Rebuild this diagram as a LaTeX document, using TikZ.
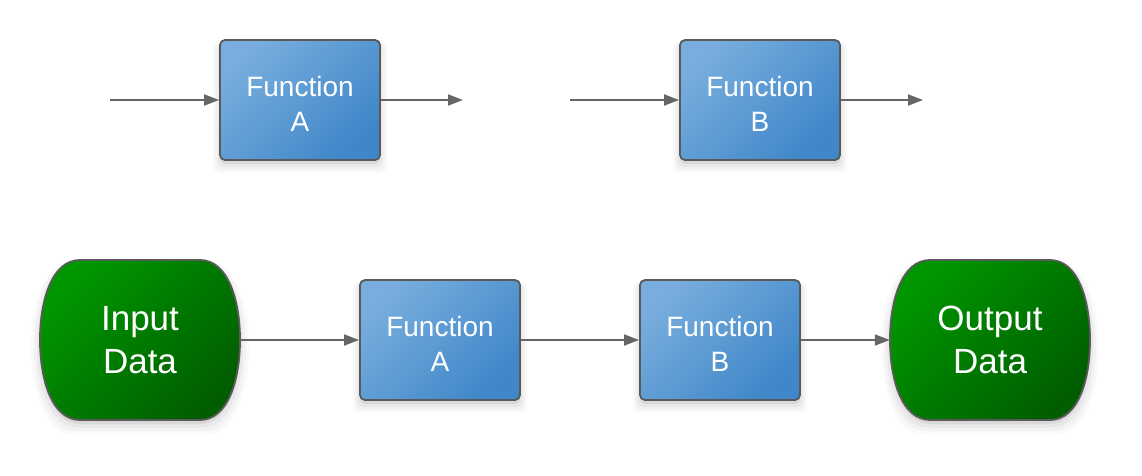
\documentclass[tikz,border=0pt]{standalone}
\usepackage{fontspec}
\setmainfont{Liberation Sans}
\usetikzlibrary{arrows.meta,shadows}
\definecolor{boxlt}{HTML}{78ADDD}
\definecolor{boxdk}{HTML}{3F87C9}
\definecolor{grnlt}{HTML}{009600}
\definecolor{grndk}{HTML}{005E00}
\definecolor{edge}{HTML}{5A5A5A}
\definecolor{arrowgray}{HTML}{666666}
\begin{document}
\begin{tikzpicture}[x=1pt,y=-1pt,
  softshadow/.style={
    general shadow={fill=black,opacity=.07,shadow yshift=-4pt},
    general shadow={fill=black,opacity=.04,shadow yshift=-5pt,shadow scale=1.03},
    general shadow={fill=black,opacity=.03,shadow yshift=-6pt,shadow scale=1.06},
    general shadow={fill=black,opacity=.02,shadow yshift=-7pt,shadow scale=1.09}},
  func/.style={rectangle,rounded corners=5pt,minimum width=160pt,minimum height=120pt,
    draw=edge,line width=1.8pt,top color=boxlt,bottom color=boxdk,shading angle=45,
    softshadow,inner sep=0pt},
  ftext/.style={text=white,align=center,inner sep=0pt,font=\fontsize{28}{35}\selectfont},
  datashape/.style={draw=edge,line width=1.8pt,top color=grnlt,bottom color=grndk,shading angle=45,softshadow},
  dtext/.style={text=white,align=center,inner sep=0pt,minimum width=200pt,minimum height=160pt,
    font=\fontsize{35}{43}\selectfont},
  arr/.style={draw=arrowgray,line width=1.8pt,-{Triangle[length=15pt,width=11pt]}}
]
\useasboundingbox (0,0) rectangle (1142,475);

% top row
\node[func] (fa1) at (300,100) {};
\node[ftext] (fa1t) at ([yshift=-4pt]fa1.center) {Function\\A};
\node[func] (fb1) at (760,100) {};
\node[ftext] (fb1t) at ([yshift=-4pt]fb1.center) {Function\\B};
\coordinate (a1in) at (110,100);
\coordinate (a1out) at (463,100);
\coordinate (b1in) at (570,100);
\coordinate (b1out) at (923,100);
\draw[arr] (a1in) -- (fa1.west);
\draw[arr] (fa1.east) -- (a1out);
\draw[arr] (b1in) -- (fb1.west);
\draw[arr] (fb1.east) -- (b1out);

% bottom row
\path[datashape,shift={(140,340)}]
  (-60,-80) -- (60,-80) .. controls (88,-80) and (100,-40) .. (100,0)
  .. controls (100,40) and (88,80) .. (60,80) -- (-60,80)
  .. controls (-88,80) and (-100,40) .. (-100,0)
  .. controls (-100,-40) and (-88,-80) .. (-60,-80) -- cycle;
\node[dtext] (in) at (140,340) {Input\\Data};

\path[datashape,shift={(990,340)}]
  (-60,-80) -- (60,-80) .. controls (88,-80) and (100,-40) .. (100,0)
  .. controls (100,40) and (88,80) .. (60,80) -- (-60,80)
  .. controls (-88,80) and (-100,40) .. (-100,0)
  .. controls (-100,-40) and (-88,-80) .. (-60,-80) -- cycle;
\node[dtext] (out) at (990,340) {Output\\Data};

\node[func] (fa2) at (440,340) {};
\node[ftext] (fa2t) at ([yshift=-4pt]fa2.center) {Function\\A};
\node[func] (fb2) at (720,340) {};
\node[ftext] (fb2t) at ([yshift=-4pt]fb2.center) {Function\\B};

\draw[arr] (in.east) -- (fa2.west);
\draw[arr] (fa2.east) -- (fb2.west);
\draw[arr] (fb2.east) -- (out.west);
\end{tikzpicture}
\end{document}
